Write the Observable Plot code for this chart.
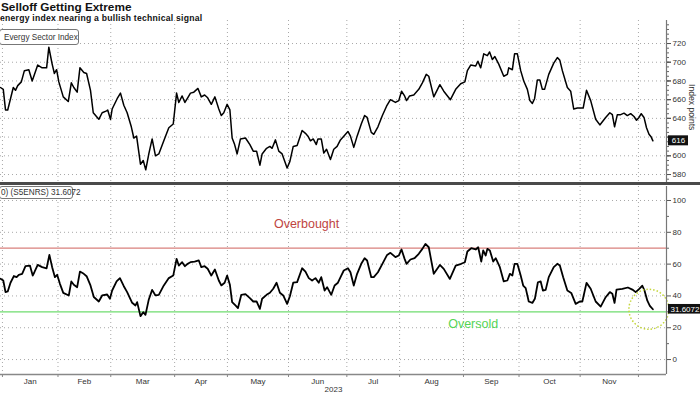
<!DOCTYPE html>
<html>
<head>
<meta charset="utf-8">
<script src="https://cdn.jsdelivr.net/npm/d3@7"></script>
<script src="https://cdn.jsdelivr.net/npm/@observablehq/plot@0.6"></script>
<style>
  html, body { margin: 0; padding: 0; background: #fff; }
  #wrap { position: relative; width: 700px; height: 394px; overflow: hidden; background: #fff;
          font-family: 'Liberation Sans', Arial, sans-serif; }
  .title { position: absolute; left: 1px; top: 0px; font-size: 11.8px; font-weight: bold; color: #111; white-space: nowrap; }
  .sub { position: absolute; left: 0px; top: 13px; font-size: 8.6px; font-weight: bold; color: #111; letter-spacing: 0.25px; white-space: nowrap; }
  .legend { position: absolute; background: #fff; border: 1px solid #777; border-radius: 3px; font-size: 8.2px; color: #333;
            white-space: nowrap; box-sizing: border-box; display: flex; align-items: center; }
  #sep { position: absolute; left: 0; top: 182px; width: 700px; height: 3px; background: #4a4a4a; }
  #unit { position: absolute; left: 687px; top: 84px; writing-mode: vertical-rl; font-size: 8.6px; color: #333; white-space: nowrap; }
  #top, #bot { position: absolute; left: 0; }
  #top { top: 20px; } #bot { top: 186px; }
</style>
</head>
<body>
<div id="wrap">
  <div class="title">Selloff Getting Extreme</div>
  <div class="sub">energy index nearing a bullish technical signal</div>
  <div id="top"></div>
  <div id="bot"></div>
  <div id="sep"></div>
  <div id="unit"></div>
  <div class="legend" id="leg1" style="left:-1px; top:29px; width:80px; height:16px; padding-left:4px;"></div>
  <div class="legend" id="leg2" style="left:-1px; top:186px; width:74px; height:13px; padding-left:1px;"></div>
</div>
<script>
// ---------- data ----------
const months = ["Jan","Feb","Mar","Apr","May","Jun","Jul","Aug","Sep","Oct","Nov"];
// trading-day index of the first session of each month (Jan 2023 ... Dec 2023)
const monthStartIdx = [0,20,39,62,81,103,124,143,166,186,208,229];
const yearLabel = "2023";

const indexName = "Evergy Sector Index";
const rsiName = "0) (S5ENRS) 31.6072";
const indexUnit = "Index points";

// S&P 500 Energy sector index (trading-day index, level)
const indexDay = [-0.7,0.3,1.1,1.9,2.9,3.9,4.7,5.5,6.8,7.9,9.5,10.7,11.3,12.7,14.3,15.9,16.7,17.9,18.7,19.5,
  20.3,21.9,23.7,24.8,25.7,26.9,27.9,29.3,30.3,31.7,32.7,34.7,35.9,37.5,37.9,38.9,39.5,41.3,42.5,43.7,
  44.9,46.4,47.3,48.3,49.7,50.7,51.6,52.7,53.9,55.1,56.3,58.1,59.9,61.5,62.7,63.5,64.7,65.7,66.7,67.7,
  68.9,70.4,71.6,72.8,73.9,75.2,76.5,77.9,78.8,79.7,80.9,81.9,82.7,83.6,84.5,85.7,87.5,89.1,90.3,91.5,
  92.7,93.5,95.1,96.3,97.1,98.3,99.5,100.7,102.5,103.5,104.7,106.1,107.9,109.1,110.0,110.9,111.9,113.0,113.6,114.8,
  115.7,116.7,118.1,119.3,120.5,121.7,122.9,124.4,125.3,126.5,127.7,129.2,130.4,131.3,132.8,133.7,135.2,136.8,138.3,139.7,
  141.5,142.7,143.7,144.8,145.5,146.6,148.1,149.9,151.2,152.6,153.5,155.3,157.5,158.9,161.3,163.2,165.0,166.5,167.4,168.6,
  170.4,171.2,172.2,173.3,174.6,175.4,176.4,177.3,178.7,180.5,181.8,182.3,183.6,184.4,185.4,186.6,187.7,189.0,189.9,190.8,
  191.6,192.6,193.5,194.4,195.2,196.7,198.5,199.8,200.7,201.6,203.4,204.6,205.7,207.0,209.1,210.3,211.8,213.6,215.1,217.2,
  218.7,219.6,220.4,221.4,222.6,223.8,225.0,226.2,227.4,228.3,229.2,230.0,231.0,231.9,232.8,233.6,234.2];
const indexValue = [673,671,649,649,661,673,670,675,679,691,692,680,685,697,694,694,716,698,688,692,
  679,663,658,678,673,668,694,689,688,670,646,639,646,648,649,639,650,661,667,654,
  646,631,619,621,591,595,585,602,618,600,602,616,630,634,667,657,664,657,662,667,
  668,672,663,665,662,655,663,650,643,646,655,649,619,612,602,618,619,612,605,605,
  590,602,608,610,608,617,605,602,587,594,610,611,627,624,621,616,618,612,618,618,
  603,607,596,607,610,617,621,626,621,609,621,634,643,641,625,623,631,643,653,660,
  657,659,669,664,659,664,665,671,678,687,685,663,676,669,660,671,677,679,691,697,
  696,701,694,709,707,711,703,706,698,685,687,694,692,709,709,691,680,671,659,656,
  661,681,681,671,671,687,699,705,702,691,673,669,650,651,651,670,659,639,633,641,
  646,644,631,644,644,645.6,643,645,642,638,641,645,641,630,623,620,616];

// 14-day RSI of the index (trading-day index, RSI)
const rsiDay = [-0.7,0.3,1.1,1.9,2.9,4.1,5.1,5.9,7.1,8.3,9.9,10.9,11.5,12.7,14.3,15.9,16.9,17.9,18.9,19.7,
  20.7,21.9,23.9,24.8,25.7,26.9,27.9,29.3,30.3,31.7,32.9,34.7,35.9,37.7,38.7,39.5,41.1,42.3,43.7,44.9,
  46.7,47.9,48.5,49.7,50.7,51.5,52.7,53.9,55.1,56.3,58.1,59.9,61.5,62.7,63.5,64.7,65.7,66.7,67.7,69.2,
  70.7,71.6,72.8,73.9,75.2,76.5,77.9,78.8,80.0,80.9,81.9,82.7,83.9,84.8,86.0,87.5,89.1,90.3,91.5,92.7,
  93.5,95.1,96.3,97.5,98.7,99.9,101.1,102.5,103.5,104.7,106.1,107.9,109.1,110.3,111.5,112.7,113.9,114.8,116.0,116.9,
  118.4,119.6,120.8,122.0,122.9,124.4,125.3,126.5,127.7,129.2,130.4,131.3,132.8,133.7,135.2,136.8,138.5,139.7,141.5,142.7,
  143.7,144.8,145.5,146.9,148.4,149.9,151.2,152.3,153.5,155.3,157.5,158.9,161.1,163.2,165.2,166.5,167.4,168.8,170.4,171.3,
  172.4,173.1,174.0,174.6,175.5,176.7,177.6,179.1,180.5,181.8,182.7,183.6,184.4,185.4,186.6,187.5,188.4,189.5,190.8,191.7,
  192.8,193.8,194.6,195.6,196.7,198.5,199.8,200.7,201.9,203.4,204.8,206.4,207.9,208.8,210.3,211.8,213.6,215.4,217.2,218.7,
  219.6,220.4,221.1,223.2,225.2,226.8,228.0,229.2,230.4,231.2,232.2,233.1,234.2];
const rsiValue = [50.8,49.7,42.4,42.8,48.3,52.5,51.8,53.3,53.9,58.7,59.1,52.8,54.9,59.5,58.1,57.4,65.8,58.1,51.8,53.3,
  47.6,41.9,40.3,49.1,47,45.5,55.3,53.9,52.4,46.6,39.3,36.5,40.3,40.9,38.2,43.4,49.1,51.2,46.1,42.4,
  35.7,34,36.1,27.3,29.8,28.1,37.8,43.8,40.3,40.7,46.6,51.2,52.8,63.3,59.1,61.2,58.7,60.2,61.2,61.6,
  62.3,58.1,58.7,57.1,52.8,56.6,49.7,46.6,48.3,52.8,47,36.1,34,32.4,40.7,41.1,38.6,36.5,36.5,31.9,
  38.2,40.7,42,44.5,48.3,42,40.3,35,39.8,48.3,48.7,57.4,55.3,51.2,49.7,51.2,48.3,51.8,43.4,45.5,
  40.7,46.6,48.3,52.8,56,57.4,54.9,46.5,53.9,60.2,63.7,62.3,51.8,51.8,54.9,60.2,65.8,67.1,64.4,65.4,
  69.2,63.3,60.2,62.9,63.7,66.5,69.6,72.7,70.6,53.9,59.5,57,50.7,59.1,60.2,61.2,67.9,70,69.2,70.6,
  61.6,68.6,65.4,69.6,68.6,61.6,63.7,58.1,49.1,49.7,53.9,52.8,60.2,60.2,52.8,46.5,44.9,36.5,35.6,38.2,
  48.6,49.1,43.4,43.8,51.8,58.1,60.2,59.1,51.8,43.4,41.9,35,36.5,36.5,48.2,44.5,36.5,33.3,39.2,42.4,
  41.4,35.6,44,44.4,45.3,44,42.4,44.3,46.4,43.3,37,33.8,31.6072];

const indexTicks = [580,600,620,640,660,680,700,720];
const indexMinor = d3.range(575, 741, 5);
const rsiTicks = [0,20,40,60,80,100];
const rsiMinor = d3.range(10, 106, 20);
const levels = [{v: 70, label: "Overbought", color: "#d9807c", text: "#c0453f", at: 109.5, off: -24},
                {v: 30, label: "Oversold",   color: "#6fdc6f", text: "#55d455", at: 169.5, off: 12}];
const lastIndexLabel = "616";
const lastRsiLabel = "31.6072";

// ---------- build ----------
const FONT = "'Liberation Sans', Arial, sans-serif";
const W = 700, MR = 34;
const xDomain = [-0.7, 239.1];
const pxPerDay = (W - MR) / (xDomain[1] - xDomain[0]);

const idx = indexDay.map((d, i) => ({d, v: indexValue[i]}));
const rsi = rsiDay.map((d, i) => ({d, v: rsiValue[i]}));
const lastIdx = idx[idx.length - 1];
const lastRsi = rsi[rsi.length - 1];
const monthMid = months.map((m, i) => (monthStartIdx[i] + monthStartIdx[i + 1]) / 2);

const gridStyle = {stroke: "#a8a8a8", strokeDasharray: "1,3", strokeWidth: 1};

// top panel
const topH = 163;
const topY = [570.4, 744.6];
const topPx = topH / (topY[1] - topY[0]);
// tick labels hidden behind the last-value box (as in the original) are not drawn
const indexTickLabels = indexTicks.filter(t => Math.abs(t - lastIdx.v) * topPx > 9);
const topPlot = Plot.plot({
  width: W, height: topH,
  marginLeft: 0, marginRight: MR, marginTop: 0, marginBottom: 0,
  style: {fontFamily: FONT, fontSize: "8px", color: "#333", background: "transparent", overflow: "visible"},
  x: {domain: xDomain, axis: null},
  y: {domain: topY, axis: null},
  marks: [
    Plot.ruleX(monthStartIdx, gridStyle),
    Plot.gridY(indexTicks, {...gridStyle, strokeOpacity: 1}),
    Plot.line(idx, {x: "d", y: "v", stroke: "#000", strokeWidth: 1.5, curve: "linear"}),
    Plot.ruleX([xDomain[1]], {stroke: "#777", strokeWidth: 1.2}),
    Plot.axisY(indexMinor, {anchor: "right", tickSize: 2, tickFormat: () => "", stroke: "#666", label: null}),
    Plot.axisY(indexTicks, {anchor: "right", tickSize: 4, tickFormat: () => "", stroke: "#555", label: null}),
    Plot.axisY(indexTickLabels, {anchor: "right", tickSize: 4, tickPadding: 2, stroke: "#555", fill: "#333", fontSize: 8, label: null}),
    Plot.rect([lastIdx], {x1: () => xDomain[1] + 2 / pxPerDay, x2: () => xDomain[1] + 22 / pxPerDay,
      y1: d => d.v - 5 / topPx, y2: d => d.v + 5 / topPx, fill: "#111"}),
    Plot.text([lastIdx], {x: () => xDomain[1] + 12 / pxPerDay, y: "v", text: () => lastIndexLabel, fill: "#fff", fontSize: 8})
  ]
});
document.getElementById("top").appendChild(topPlot);

// bottom panel
const botH = 208, botMB = 20;
const botY = [-9.4, 108.8];
const botPx = (botH - botMB) / (botY[1] - botY[0]);
const botPlot = Plot.plot({
  width: W, height: botH,
  marginLeft: 0, marginRight: MR, marginTop: 0, marginBottom: botMB,
  style: {fontFamily: FONT, fontSize: "8px", color: "#333", background: "transparent", overflow: "visible"},
  x: {domain: xDomain, axis: null},
  y: {domain: botY, axis: null},
  marks: [
    Plot.ruleX(monthStartIdx, gridStyle),
    Plot.gridY(rsiTicks, {...gridStyle, strokeOpacity: 1}),
    Plot.ruleY(levels, {y: "v", stroke: "color", strokeWidth: 1.2}),
    Plot.text(levels, {x: "at", y: d => d.v - d.off / botPx, text: "label", fill: "text", fontSize: 12.5, lineAnchor: "middle"}),
    Plot.line(rsi, {x: "d", y: "v", stroke: "#000", strokeWidth: 1.8}),
    Plot.dot([lastRsi], {x: "d", y: "v", r: 20, dx: -4, stroke: "#c4d63a", strokeWidth: 1.5, strokeDasharray: "1.5,2", fill: "none"}),
    Plot.ruleY([botY[0]], {stroke: "#888", strokeWidth: 1.5}),
    Plot.ruleX([xDomain[1]], {y1: botY[0], y2: botY[1], stroke: "#777", strokeWidth: 1.2}),
    Plot.axisY(rsiMinor, {anchor: "right", tickSize: 2, tickFormat: () => "", stroke: "#666", label: null}),
    Plot.axisY(rsiTicks, {anchor: "right", tickSize: 4, tickPadding: 2, stroke: "#555", fill: "#333", fontSize: 8, label: null}),
    Plot.axisX(monthStartIdx, {anchor: "bottom", tickSize: 3, tickFormat: () => "", stroke: "#888", label: null}),
    Plot.axisX(monthMid, {anchor: "bottom", tickSize: 0, tickPadding: 4, tickFormat: (d, i) => months[i], fill: "#333", fontSize: 8, label: null}),
    Plot.text([yearLabel], {frameAnchor: "bottom", lineAnchor: "middle", dy: 14.5, fontSize: 8, fill: "#333"}),
    Plot.rect([lastRsi], {x1: () => xDomain[1] + 2 / pxPerDay, x2: () => xDomain[1] + 36 / pxPerDay,
      y1: d => d.v - 4.8 / botPx, y2: d => d.v + 4.8 / botPx, fill: "#111"}),
    Plot.text([lastRsi], {x: () => xDomain[1] + 18.5 / pxPerDay, y: "v", text: () => lastRsiLabel, fill: "#fff", fontSize: 8})
  ]
});
document.getElementById("bot").appendChild(botPlot);

document.getElementById("leg1").textContent = indexName;
document.getElementById("leg2").textContent = rsiName;
document.getElementById("unit").textContent = indexUnit;
</script>
</body>
</html>
